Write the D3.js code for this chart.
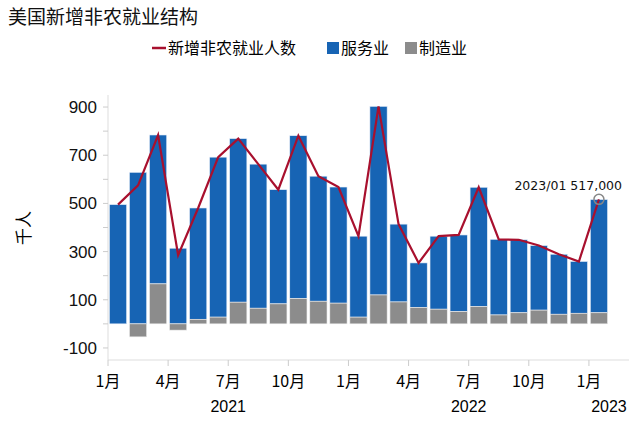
<!DOCTYPE html>
<html><head><meta charset="utf-8">
<script src="https://cdn.jsdelivr.net/npm/d3@7"></script>
<style>body{margin:0;background:#fff}svg{font-family:"Noto Sans CJK SC","Liberation Sans",sans-serif}</style>
</head><body><svg id="c" width="640" height="421"></svg>
<script>
const months=["2021-01","2021-02","2021-03","2021-04","2021-05","2021-06","2021-07","2021-08","2021-09","2021-10","2021-11","2021-12","2022-01","2022-02","2022-03","2022-04","2022-05","2022-06","2022-07","2022-08","2022-09","2022-10","2022-11","2022-12","2023-01"];
const totalTop=[495,629,784,314,481,692,769,663,557,781,613,568,364,903,414,253,364,369,567,351,349,325,289,259,516];
const manufacturing=[0,-54,166,-26,19,28,90,65,83,105,94,86,28,120,91,68,61,51,72,37,46,57,40,44,46];
const payrolls=[495,575,784,285,481,692,769,663,557,781,613,568,364,903,414,253,364,369,567,351,349,325,289,259,517];
const yTicks=[900,700,500,300,100,-100];
const svg=d3.select("#c");
const band=[...months,"2023-02"];
const x=d3.scaleBand().domain(band).range([108,629]).paddingInner(0.14).paddingOuter(0.07);
const y=d3.scaleLinear().domain([-150,950]).range([360,95]);
svg.append("text").attr("x",8).attr("y",24).attr("font-size",19).attr("fill","#111").text("美国新增非农就业结构");
// axes
svg.append("line").attr("x1",108).attr("x2",108).attr("y1",y(950)).attr("y2",y(-150)).attr("stroke","#ddd");
svg.append("line").attr("x1",108).attr("x2",629).attr("y1",y(-150)).attr("y2",y(-150)).attr("stroke","#ddd");
d3.range(-100,1000,100).forEach(v=>svg.append("line").attr("x1",103).attr("x2",108).attr("y1",y(v)).attr("y2",y(v)).attr("stroke","#ccc"));
svg.selectAll(".yt").data(yTicks).join("text").attr("x",97).attr("y",d=>y(d)+6).attr("text-anchor","end").attr("font-size",17).attr("font-family","Liberation Sans").attr("fill","#111").text(d=>d);
svg.append("text").attr("transform","translate(30,228) rotate(-90)").attr("text-anchor","middle").attr("font-size",17).text("千人");
months.forEach((m,i)=>{
  const mm=+m.slice(5);
  if([1,4,7,10].includes(mm)){
    const xx=x(m)-x.step()*x.paddingInner()/2;
    svg.append("line").attr("x1",xx).attr("x2",xx).attr("y1",360).attr("y2",366).attr("stroke","#ccc");
    svg.append("text").attr("x",xx).attr("y",387).attr("text-anchor","middle").attr("font-size",16).text(mm+"月");
    if(mm==7) svg.append("text").attr("x",xx).attr("y",412).attr("text-anchor","middle").attr("font-size",16).attr("font-family","Liberation Sans").text(m.slice(0,4));
    if(m=="2023-01") svg.append("text").attr("x",xx+20).attr("y",412).attr("text-anchor","middle").attr("font-size",16).attr("font-family","Liberation Sans").text("2023");
  }
});
const g=svg.append("g");
months.forEach((m,i)=>{
  const mf=manufacturing[i];
  const base=Math.max(0,mf);
  g.append("rect").attr("x",x(m)).attr("width",x.bandwidth()).attr("y",y(totalTop[i])).attr("height",y(base)-y(totalTop[i])).attr("fill","#1764b4").attr("stroke","#e8eef8").attr("stroke-width",0.6);
  if(mf!==0) g.append("rect").attr("x",x(m)).attr("width",x.bandwidth()).attr("y",y(Math.max(0,mf))).attr("height",Math.abs(y(mf)-y(0))).attr("fill","#8c8c8c").attr("stroke","#eee").attr("stroke-width",0.6);
});
const line=d3.line().x((d,i)=>x(months[i])+x.bandwidth()/2).y(d=>y(d));
svg.append("path").datum(payrolls).attr("d",line).attr("fill","none").attr("stroke","#a8102e").attr("stroke-width",2.2);
const lx=x("2023-01")+x.bandwidth()/2, ly=y(517);
svg.append("circle").attr("cx",lx).attr("cy",ly).attr("r",5).attr("fill","none").attr("stroke","#888").attr("stroke-width",1.5);
svg.append("text").attr("x",622).attr("y",190).attr("text-anchor","end").attr("font-size",12.5).attr("font-family","DejaVu Sans").attr("fill","#111").text("2023/01  517,000");
// legend
const lg=svg.append("g").attr("font-size",16);
lg.append("line").attr("x1",152).attr("x2",166).attr("y1",48).attr("y2",48).attr("stroke","#a8102e").attr("stroke-width",2.5);
lg.append("text").attr("x",168).attr("y",54).text("新增非农就业人数");
lg.append("rect").attr("x",327).attr("y",42).attr("width",12).attr("height",12).attr("fill","#1764b4");
lg.append("text").attr("x",341).attr("y",54).text("服务业");
lg.append("rect").attr("x",405).attr("y",42).attr("width",12).attr("height",12).attr("fill","#8c8c8c");
lg.append("text").attr("x",419).attr("y",54).text("制造业");
</script></body></html>
